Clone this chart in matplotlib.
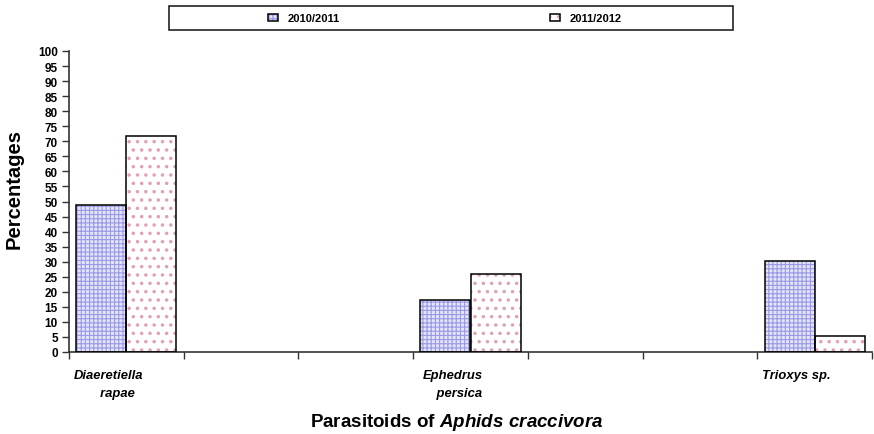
import numpy as np
import matplotlib
matplotlib.use("Agg")
import matplotlib.pyplot as plt
from matplotlib.patches import Rectangle
from matplotlib.transforms import ScaledTranslation

plt.rcParams["font.family"] = ["Liberation Sans", "DejaVu Sans"]
plt.rcParams["mathtext.fontset"] = "custom"
plt.rcParams["mathtext.it"] = "Liberation Sans:italic:bold"
plt.rcParams["mathtext.rm"] = "Liberation Sans:bold"

# Parasitoid species along the x axis (blank slots keep the wide spacing)
categories = ["Diaeretiella\n     rapae", "", "", "Ephedrus\n    persica", "", "", "Trioxys sp."]
season_labels = ["2010/2011", "2011/2012"]
pct_2010 = [49.0, np.nan, np.nan, 17.2, np.nan, np.nan, 30.3]
pct_2011 = [71.8, np.nan, np.nan, 26.0, np.nan, np.nan, 5.2]
y_ticks = list(range(0, 101, 5))

fig = plt.figure(figsize=(8.74, 4.35), dpi=100)
ax = fig.add_axes([69 / 874, 82 / 435, (872 - 69) / 874, (353 - 52) / 435])

x = np.arange(len(categories))
w = 0.437

styles = [
    dict(face="#e4e4f8", hatch="++++", hcolor="#9a9ae6", hlw=0.8),
    dict(face="white", hatch="..", hcolor="#e0a0b6", hlw=1.3),
]
handles = []
for i, (vals, st) in enumerate(zip([pct_2010, pct_2011], styles)):
    vals = np.array(vals, dtype=float)
    mask = ~np.isnan(vals)
    xs = x[mask] + (i - 0.5) * w
    with plt.rc_context({"hatch.linewidth": st["hlw"]}):
        fill = ax.bar(xs, vals[mask], width=w, color=st["face"], hatch=st["hatch"],
                      edgecolor=st["hcolor"], linewidth=0, zorder=2)
    edge = ax.bar(xs, vals[mask], width=w, fill=False, edgecolor="black",
                  linewidth=1.1, zorder=3)
    handles.append((fill, edge))

ax.set_xlim(-0.5, len(categories) - 0.5)
ax.set_ylim(0, 100)
ax.set_yticks(y_ticks)
ax.set_yticklabels([str(v) for v in y_ticks], fontsize=8.5, fontweight="bold")

# boundary ticks between categories, labels at category centres
ax.set_xticks(np.arange(len(categories) + 1) - 0.5)
ax.set_xticklabels([])
ax.set_xticks(x, minor=True)
ax.set_xticklabels(categories, minor=True, fontsize=9.4, fontweight="bold",
                   fontstyle="italic", linespacing=1.75)
ax.tick_params(axis="x", which="minor", length=0, pad=12)
ax.tick_params(axis="x", which="major", length=5, width=1, direction="out", color="#333333")
ax.tick_params(axis="y", length=5, width=1, direction="out", color="#333333", pad=3)
shift = ScaledTranslation(-18 / 100, 0, fig.dpi_scale_trans)
for lbl in ax.get_xticklabels(minor=True):
    lbl.set_transform(lbl.get_transform() + shift)

for s in ["top", "right"]:
    ax.spines[s].set_visible(False)
for s in ["left", "bottom"]:
    ax.spines[s].set_color("#333333")
    ax.spines[s].set_linewidth(1.2)

fig.text(14 / 874, 1 - 189 / 435, "Percentages", rotation=90, ha="center", va="center",
         fontsize=14.5, fontweight="bold")
fig.text(457 / 874, 1 - 423 / 435, r"Parasitoids of $\mathit{Aphids\ craccivora}$",
         ha="center", va="center", fontsize=13.5, fontweight="bold")

# legend in a framed strip across the top
fig.patches.append(Rectangle((169 / 874, 1 - 31 / 435), (733 - 169) / 874, 24 / 435,
                             transform=fig.transFigure, facecolor="white",
                             edgecolor="#222222", linewidth=1.2, zorder=0))
leg = fig.legend(handles, season_labels, loc="center", ncol=2,
                 bbox_to_anchor=(445 / 874, 1 - 19 / 435), frameon=False,
                 prop=dict(size=8, weight="bold"), handlelength=0.9, handleheight=0.6,
                 handletextpad=0.9, columnspacing=18.9)

fig.savefig("out.png", dpi=100)
